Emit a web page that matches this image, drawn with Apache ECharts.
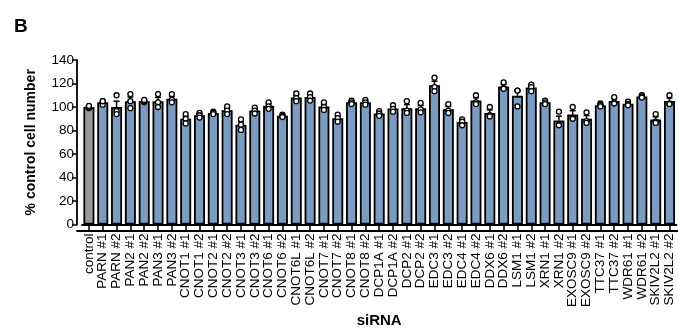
<!DOCTYPE html>
<html>
<head>
<meta charset="utf-8">
<script src="https://cdn.jsdelivr.net/npm/echarts@6/dist/echarts.min.js"></script>
<style>
html,body{margin:0;padding:0;background:#fff;}
#chart{width:678px;height:335px;}
</style>
</head>
<body>
<div id="chart"></div>
<script>
const categories = ["control","PARN #1","PARN #2","PAN2 #1","PAN2 #2","PAN3 #1","PAN3 #2","CNOT1 #1","CNOT1 #2","CNOT2 #1","CNOT2 #2","CNOT3 #1","CNOT3 #2","CNOT6 #1","CNOT6 #2","CNOT6L #1","CNOT6L #2","CNOT7 #1","CNOT7 #2","CNOT8 #1","CNOT8 #2","DCP1A #1","DCP1A #2","DCP2 #1","DCP2 #2","EDC3 #1","EDC3 #2","EDC4 #1","EDC4 #2","DDX6 #1","DDX6 #2","LSM1 #1","LSM1 #2","XRN1 #1","XRN1 #2","EXOSC9 #1","EXOSC9 #2","TTC37 #1","TTC37 #2","WDR61 #1","WDR61 #2","SKIV2L2 #1","SKIV2L2 #2"];
const means = [100,104,100,105,105,105,107,90,93,95,97.3,85,97,101,92.5,108,108.5,100.5,90.5,104,104,94.5,98.7,99,99,118.5,98.2,87.2,105.5,95,117.5,109.5,116.5,104,88.5,93.7,90,101.6,105.2,102.8,109,89.3,105.2];
const rep1 = [99,102,110,111,104,111,111,94,95,96,100.5,89.5,99.5,104,93.5,111.5,111.5,104,93.5,105.5,106,96.5,101.5,105,103.5,125,102.5,89.5,110,100,121,114,119,105.5,96,100,95.5,103,108.5,104.5,110,94,110];
const rep2 = [100,105,96.5,105,105,104,106,90,93,95,97,85,97,100.5,92.5,107.5,108.5,100,90.5,104,104,94.5,98.5,97,98,117,97,87.5,104,93,116,114,117,104,85,91,88,101.5,104,102.5,109,87.5,103];
const rep3 = [101,105,94,99,106,100,104,86,91,94,94,80.5,94.5,98.5,91.5,105,105.5,97.5,87.5,102.5,102,92.5,96,95,95.5,113.5,95,84.5,102.5,92,115.5,100.5,113.5,102.5,84.5,90,86.5,100.5,103,101.5,108,86.5,102.5];
const yTicks = {min: 0, max: 140, step: 20};

const barColors = categories.map((c, i) => i === 0 ? '#9b9b9b' : '#7b9bc1');
const sems = rep1.map((v, i) => {
  const vals = [rep1[i], rep2[i], rep3[i]];
  const m = vals.reduce((a, b) => a + b, 0) / vals.length;
  const sd = Math.sqrt(vals.reduce((a, b) => a + (b - m) * (b - m), 0) / (vals.length - 1));
  return sd / Math.sqrt(vals.length);
});
const dots = [];
[rep1, rep2, rep3].forEach(r => r.forEach((v, i) => dots.push([i, v])));

const chart = echarts.init(document.getElementById('chart'), null, {renderer: 'canvas'});
const font = 'Liberation Sans, Arial, sans-serif';
chart.setOption({
  animation: false,
  textStyle: {fontFamily: font, color: '#000'},
  title: {text: 'B', left: 9, top: 12, textStyle: {fontSize: 19, fontWeight: 'bold', color: '#000', fontFamily: font}},
  grid: [
    {left: 82, right: 1.6, top: 60, bottom: 104.5},
    {left: 77, right: 0, top: 60, bottom: 104.5}
  ],
  xAxis: [
    {
      type: 'category', gridIndex: 0, data: categories,
      axisLine: {show: true, lineStyle: {color: '#000', width: 1.8}},
      axisTick: {show: true, alignWithLabel: true, length: 7, lineStyle: {color: '#000', width: 1.5}},
      axisLabel: {interval: 0, rotate: 90, fontSize: 13.5, color: '#000', margin: 9, fontFamily: font},
      name: 'siRNA', nameLocation: 'middle', nameGap: 89,
      nameTextStyle: {fontSize: 15, fontWeight: 'bold', color: '#000', fontFamily: font}
    },
    {
      type: 'value', gridIndex: 1, min: 0, max: 1,
      axisLine: {show: true, lineStyle: {color: '#000', width: 1.8}},
      axisTick: {show: false}, axisLabel: {show: false}, splitLine: {show: false}
    }
  ],
  yAxis: [
    {
      type: 'value', gridIndex: 0, min: yTicks.min, max: yTicks.max, interval: yTicks.step, offset: 5,
      axisLine: {show: true, lineStyle: {color: '#000', width: 1.8}},
      axisTick: {show: true, length: 5, lineStyle: {color: '#000', width: 1.5}},
      axisLabel: {fontSize: 13.5, color: '#000', margin: 3, fontFamily: font},
      splitLine: {show: false},
      name: '% control cell number', nameLocation: 'middle', nameGap: 39,
      nameTextStyle: {fontSize: 14, fontWeight: 'bold', color: '#000', fontFamily: font}
    },
    {type: 'value', gridIndex: 1, min: 0, max: 140, show: false}
  ],
  series: [
    {
      type: 'bar', xAxisIndex: 0, yAxisIndex: 0, barWidth: 11,
      data: means.map((v, i) => ({value: v, itemStyle: {color: barColors[i]}})),
      itemStyle: {borderColor: '#000', borderWidth: 1.8},
      z: 2
    },
    {
      type: 'custom', xAxisIndex: 0, yAxisIndex: 0, z: 3,
      data: means.map((v, i) => [i, v, sems[i]]),
      renderItem: function (params, api) {
        const x = api.value(0), m = api.value(1), s = api.value(2);
        const p0 = api.coord([x, m]);
        const p1 = api.coord([x, m + s]);
        return {
          type: 'group',
          children: [
            {type: 'line', shape: {x1: p0[0], y1: p0[1], x2: p1[0], y2: p1[1]}, style: {stroke: '#000', lineWidth: 1.5}},
            {type: 'line', shape: {x1: p1[0] - 3, y1: p1[1], x2: p1[0] + 3, y2: p1[1]}, style: {stroke: '#000', lineWidth: 1.5}}
          ]
        };
      }
    },
    {
      type: 'scatter', xAxisIndex: 0, yAxisIndex: 0, z: 4,
      data: dots, symbol: 'circle', symbolSize: 5,
      itemStyle: {color: '#ffffff', borderColor: '#000', borderWidth: 1.3, opacity: 1}
    }
  ]
});
</script>
</body>
</html>
